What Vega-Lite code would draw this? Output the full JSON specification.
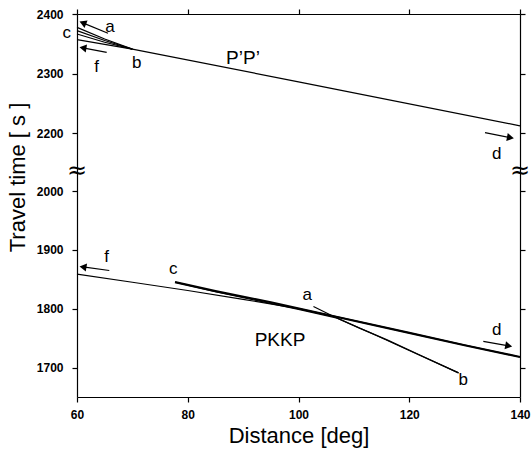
{
  "$schema": "https://vega.github.io/schema/vega-lite/v6.json",
  "width": 443,
  "height": 383,
  "autosize": "none",
  "padding": {"left": 77, "top": 14, "right": 11, "bottom": 53},
  "background": "white",
  "config": {
    "view": {"stroke": null},
    "font": "Liberation Sans",
    "axis": {
      "grid": false,
      "domainColor": "black",
      "tickColor": "black",
      "labelColor": "black",
      "titleColor": "black",
      "tickSize": 5,
      "domainWidth": 1.2,
      "tickWidth": 1.2,
      "labelFont": "Liberation Sans",
      "labelFontWeight": "bold",
      "labelFontSize": 12,
      "labelFlush": false,
      "format": "d",
      "titleFont": "Liberation Sans",
      "titleFontWeight": "normal",
      "titleFontSize": 22
    }
  },
  "datasets": {
    "curves": [
      {"id": "P'P' df", "d": 60, "t": 2357},
      {"id": "P'P' df", "d": 70, "t": 2341},
      {"id": "P'P' df", "d": 100, "t": 2286},
      {"id": "P'P' df", "d": 140, "t": 2212},
      {"id": "P'P' a", "d": 60, "t": 2377.6},
      {"id": "P'P' a", "d": 65, "t": 2358},
      {"id": "P'P' a", "d": 70, "t": 2341},
      {"id": "P'P' a2", "d": 60, "t": 2372},
      {"id": "P'P' a2", "d": 65, "t": 2355.5},
      {"id": "P'P' a2", "d": 70, "t": 2341},
      {"id": "P'P' c", "d": 60, "t": 2366.4},
      {"id": "P'P' c", "d": 65, "t": 2352.5},
      {"id": "P'P' c", "d": 70, "t": 2341},
      {"id": "PKKP df", "d": 60, "t": 1858.8},
      {"id": "PKKP df", "d": 70, "t": 1845},
      {"id": "PKKP df", "d": 80, "t": 1831},
      {"id": "PKKP df", "d": 90, "t": 1816},
      {"id": "PKKP df", "d": 100, "t": 1800},
      {"id": "PKKP df", "d": 107, "t": 1786},
      {"id": "PKKP df", "d": 120, "t": 1759},
      {"id": "PKKP df", "d": 130, "t": 1738},
      {"id": "PKKP df", "d": 140, "t": 1718},
      {"id": "PKKP cd", "d": 77.7, "t": 1845.3},
      {"id": "PKKP cd", "d": 85, "t": 1830},
      {"id": "PKKP cd", "d": 95, "t": 1811},
      {"id": "PKKP cd", "d": 107, "t": 1786},
      {"id": "PKKP cd", "d": 120, "t": 1759},
      {"id": "PKKP cd", "d": 130, "t": 1738},
      {"id": "PKKP cd", "d": 140, "t": 1718},
      {"id": "PKKP bc", "d": 77.7, "t": 1845.3},
      {"id": "PKKP bc", "d": 85, "t": 1829},
      {"id": "PKKP bc", "d": 93, "t": 1813},
      {"id": "PKKP bc", "d": 100, "t": 1799},
      {"id": "PKKP bc", "d": 107, "t": 1784},
      {"id": "PKKP bc", "d": 111, "t": 1767},
      {"id": "PKKP bc", "d": 116, "t": 1747},
      {"id": "PKKP bc", "d": 122, "t": 1721},
      {"id": "PKKP bc", "d": 128.9, "t": 1691},
      {"id": "PKKP ab", "d": 102.7, "t": 1803.9},
      {"id": "PKKP ab", "d": 106.9, "t": 1784.2},
      {"id": "PKKP ab", "d": 113.5, "t": 1757},
      {"id": "PKKP ab", "d": 120, "t": 1729},
      {"id": "PKKP ab", "d": 128.9, "t": 1691}
    ],
    "arrows": [
      {"name": "a-up", "d": 65.6, "t": 2367.6, "d2": 61.05, "t2": 2385.1},
      {"name": "f-up", "d": 65.36, "t": 2335.6, "d2": 61.07, "t2": 2343.1},
      {"name": "d-up", "d": 133.68, "t": 2200.5, "d2": 138.27, "t2": 2183.8},
      {"name": "f-low", "d": 65.83, "t": 1864.9, "d2": 61.08, "t2": 1871},
      {"name": "d-low", "d": 133.37, "t": 1744.6, "d2": 137.96, "t2": 1736.9}
    ],
    "labels": [
      {"label": "a", "d": 65.96, "t": 2378.7, "kind": "letter"},
      {"label": "c", "d": 58.14, "t": 2367.6, "kind": "letter"},
      {"label": "f", "d": 63.56, "t": 2311.4, "kind": "letter"},
      {"label": "b", "d": 70.78, "t": 2317.1, "kind": "letter"},
      {"label": "d", "d": 135.79, "t": 2127.6, "kind": "letter"},
      {"label": "P’P’", "d": 89.98, "t": 2326.1, "kind": "phase"},
      {"label": "f", "d": 65.36, "t": 1888.6, "kind": "letter"},
      {"label": "c", "d": 77.39, "t": 1867.3, "kind": "letter"},
      {"label": "a", "d": 101.59, "t": 1823.7, "kind": "letter"},
      {"label": "b", "d": 129.76, "t": 1679.7, "kind": "letter"},
      {"label": "d", "d": 135.79, "t": 1763.2, "kind": "letter"},
      {"label": "PKKP", "d": 96.66, "t": 1747.5, "kind": "phase"},
      {"label": "≈", "d": 60, "t": 2069, "kind": "break"},
      {"label": "≈", "d": 140, "t": 2069, "kind": "break"}
    ]
  },
  "encoding": {
    "x": {"field": "d", "type": "quantitative", "scale": {"domain": [60, 140], "nice": false, "zero": false}, "axis": null},
    "y": {"field": "t", "type": "quantitative", "scale": {"domain": [1650, 2000, 2200, 2400], "range": [383, 177, 119, 0], "nice": false, "zero": false}, "axis": null}
  },
  "layer": [
    {
      "data": {"name": "curves"},
      "transform": [{"filter": "datum.id !== 'PKKP cd'"}],
      "mark": {"type": "line", "color": "black", "strokeWidth": 1.2},
      "encoding": {
        "x": {"field": "d", "type": "quantitative", "scale": {"domain": [60, 140], "nice": false, "zero": false},
              "axis": {"orient": "bottom", "values": [60, 80, 100, 120, 140], "title": "Distance [deg]", "labelPadding": 7, "titleY": 38, "titleBaseline": "middle"}},
        "y": {"field": "t", "type": "quantitative", "scale": {"domain": [1650, 2000, 2200, 2400], "range": [383, 177, 119, 0], "nice": false, "zero": false},
              "axis": {"orient": "left", "values": [1700, 1800, 1900, 2000, 2200, 2300, 2400], "title": "Travel time [ s ]", "labelPadding": 9, "titleX": -60, "titleY": 163, "titleBaseline": "middle", "titleAlign": "center", "titleAngle": -90}},
        "detail": {"field": "id"}
      }
    },
    {
      "data": {"name": "curves"},
      "transform": [{"filter": "datum.id === 'PKKP cd'"}],
      "mark": {"type": "line", "color": "black", "strokeWidth": 2.2},
      "encoding": {
        "x": {"field": "d", "type": "quantitative", "scale": {"domain": [60, 140], "nice": false, "zero": false},
              "axis": {"orient": "top", "values": [60, 80, 100, 120, 140], "labels": false, "title": null}},
        "y": {"field": "t", "type": "quantitative", "scale": {"domain": [1650, 2000, 2200, 2400], "range": [383, 177, 119, 0], "nice": false, "zero": false},
              "axis": {"orient": "right", "values": [1700, 1800, 1900, 2000, 2200, 2300, 2400], "labels": false, "title": null}}
      }
    },
    {
      "data": {"name": "arrows"},
      "mark": {"type": "rule", "color": "black", "strokeWidth": 1.2},
      "encoding": {
        "x2": {"field": "d2"},
        "y2": {"field": "t2"}
      }
    },
    {
      "data": {"name": "arrows"},
      "transform": [{"filter": "datum.name === 'a-up'"}],
      "mark": {"type": "point", "shape": "triangle-left", "filled": true, "color": "black", "opacity": 1, "size": 65, "angle": 22},
      "encoding": {"x": {"field": "d2", "type": "quantitative"}, "y": {"field": "t2", "type": "quantitative"}}
    },
    {
      "data": {"name": "arrows"},
      "transform": [{"filter": "datum.name === 'f-up' || datum.name === 'f-low'"}],
      "mark": {"type": "point", "shape": "triangle-left", "filled": true, "color": "black", "opacity": 1, "size": 65, "angle": 9},
      "encoding": {"x": {"field": "d2", "type": "quantitative"}, "y": {"field": "t2", "type": "quantitative"}}
    },
    {
      "data": {"name": "arrows"},
      "transform": [{"filter": "datum.name === 'd-up' || datum.name === 'd-low'"}],
      "mark": {"type": "point", "shape": "triangle-right", "filled": true, "color": "black", "opacity": 1, "size": 65, "angle": 10.5},
      "encoding": {"x": {"field": "d2", "type": "quantitative"}, "y": {"field": "t2", "type": "quantitative"}}
    },
    {
      "data": {"name": "labels"},
      "transform": [{"filter": "datum.kind === 'letter'"}],
      "mark": {"type": "text", "font": "Liberation Sans", "fontSize": 17, "color": "black", "align": "center", "baseline": "middle"},
      "encoding": {"text": {"field": "label"}}
    },
    {
      "data": {"name": "labels"},
      "transform": [{"filter": "datum.kind === 'phase'"}],
      "mark": {"type": "text", "font": "Liberation Sans", "fontSize": 19, "color": "black", "align": "center", "baseline": "middle"},
      "encoding": {"text": {"field": "label"}}
    },
    {
      "data": {"name": "labels"},
      "transform": [{"filter": "datum.kind === 'break'"}],
      "mark": {"type": "text", "font": "DejaVu Sans", "fontSize": 24, "color": "black", "align": "center", "baseline": "middle"},
      "encoding": {"text": {"field": "label"}}
    }
  ],
  "resolve": {"axis": {"x": "independent", "y": "independent"}}
}
